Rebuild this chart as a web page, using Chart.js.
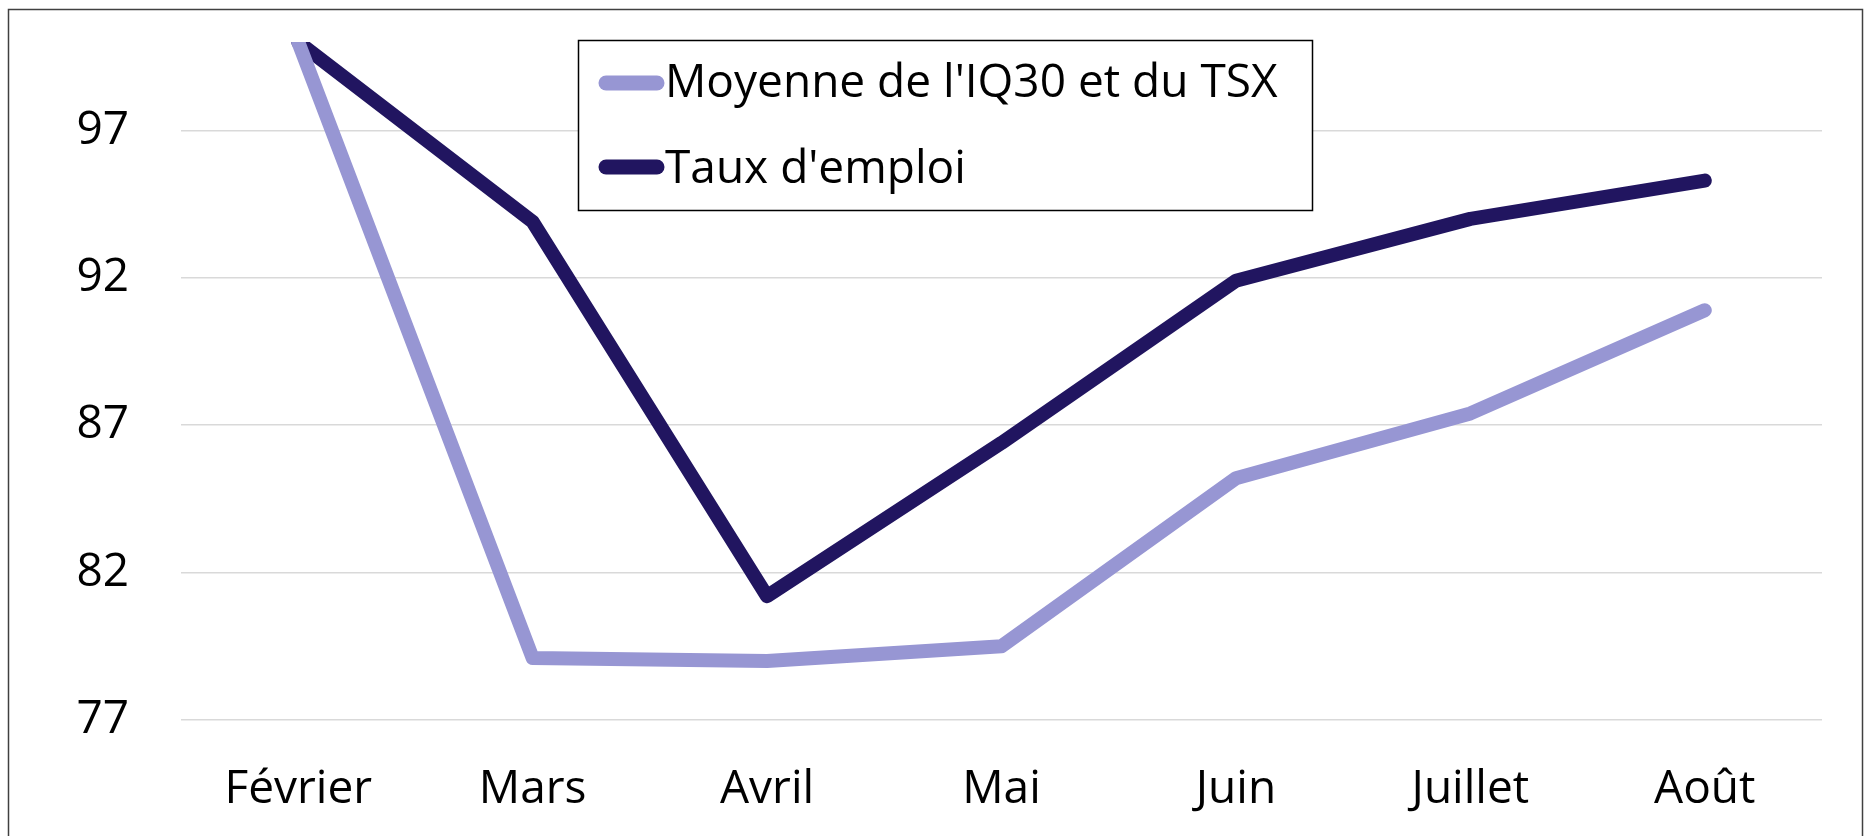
<!DOCTYPE html>
<html>
<head>
<meta charset="utf-8">
<script src="https://cdn.jsdelivr.net/npm/chart.js@4.4.1/dist/chart.umd.min.js"></script>
<style>
  html, body { margin: 0; padding: 0; background: #fff; }
  #wrap { width: 1864px; height: 836px; }
</style>
</head>
<body>
<div id="wrap"><canvas id="grafico" width="1864" height="836"></canvas></div>
<script>
var mois = ["Février", "Mars", "Avril", "Mai", "Juin", "Juillet", "Août"];
var moyenneIQ30TSX = [100, 79.1, 79.0, 79.5, 85.2, 87.4, 90.9];
var tauxEmploi = [100, 93.9, 81.2, 86.4, 91.9, 94.0, 95.3];
var yTicks = [77, 82, 87, 92, 97];

var police = "'Open Sans', sans-serif";
var taille = 46;

// legend box drawn by hand (Excel style, inside the plot)
var legendeBox = {
  id: 'legendeBox',
  afterDraw: function (chart) {
    var ctx = chart.ctx;
    ctx.save();
    ctx.fillStyle = '#fff';
    ctx.fillRect(578.5, 40.5, 734, 170);
    ctx.strokeStyle = '#000';
    ctx.lineWidth = 1.5;
    ctx.strokeRect(578.5, 40.5, 734, 170);
    var rows = [83, 167];
    var bases = [97, 183];
    chart.data.datasets.forEach(function (ds, i) {
      ctx.strokeStyle = ds.borderColor;
      ctx.lineWidth = 15;
      ctx.lineCap = 'round';
      ctx.beginPath();
      ctx.moveTo(606, rows[i]);
      ctx.lineTo(657, rows[i]);
      ctx.stroke();
      ctx.fillStyle = '#000';
      ctx.font = taille + 'px ' + police;
      ctx.textBaseline = 'alphabetic';
      ctx.textAlign = 'left';
      ctx.fillText(ds.label, 665, bases[i]);
    });
    // outer frame of the picture
    ctx.strokeStyle = '#404040';
    ctx.lineWidth = 1.5;
    ctx.strokeRect(8.5, 9.5, 1854, 900);
    ctx.restore();
  },
  beforeDraw: function (chart) {
    var ctx = chart.ctx;
    ctx.save();
    ctx.fillStyle = '#fff';
    ctx.fillRect(0, 0, chart.width, chart.height);
    ctx.restore();
  }
};

var grafico = new Chart(document.getElementById('grafico').getContext('2d'), {
  type: 'line',
  data: {
    labels: mois,
    datasets: [{
      label: "Moyenne de l'IQ30 et du TSX",
      data: moyenneIQ30TSX,
      borderColor: '#9796D3',
      borderWidth: 14,
      borderCapStyle: 'round',
      borderJoinStyle: 'round',
      pointRadius: 0,
      tension: 0,
      clip: 0
    }, {
      label: "Taux d'emploi",
      data: tauxEmploi,
      borderColor: '#211560',
      borderWidth: 14,
      borderCapStyle: 'round',
      borderJoinStyle: 'round',
      pointRadius: 0,
      tension: 0,
      clip: 0
    }]
  },
  options: {
    responsive: false,
    animation: false,
    layout: { padding: { left: 0, top: 42, right: 42, bottom: 0 } },
    plugins: {
      legend: { display: false },
      tooltip: { enabled: false }
    },
    scales: {
      x: {
        offset: true,
        grid: { display: false },
        border: { display: false },
        ticks: { color: '#000', font: { family: police, size: taille }, padding: 34, maxRotation: 0 },
        afterFit: function (scale) { scale.height = 116; scale.paddingLeft = 0; scale.paddingRight = 0; }
      },
      y: {
        min: 77,
        max: 100,
        afterBuildTicks: function (axis) {
          axis.ticks = yTicks.map(function (v) { return { value: v }; });
        },
        grid: { color: '#D9D9D9', lineWidth: 1.5, drawTicks: false },
        border: { display: false },
        ticks: { color: '#000', font: { family: police, size: taille }, padding: 52 },
        afterFit: function (scale) { scale.width = 181; scale.paddingTop = 0; scale.paddingBottom = 0; }
      }
    }
  },
  plugins: [legendeBox]
});
</script>
</body>
</html>
